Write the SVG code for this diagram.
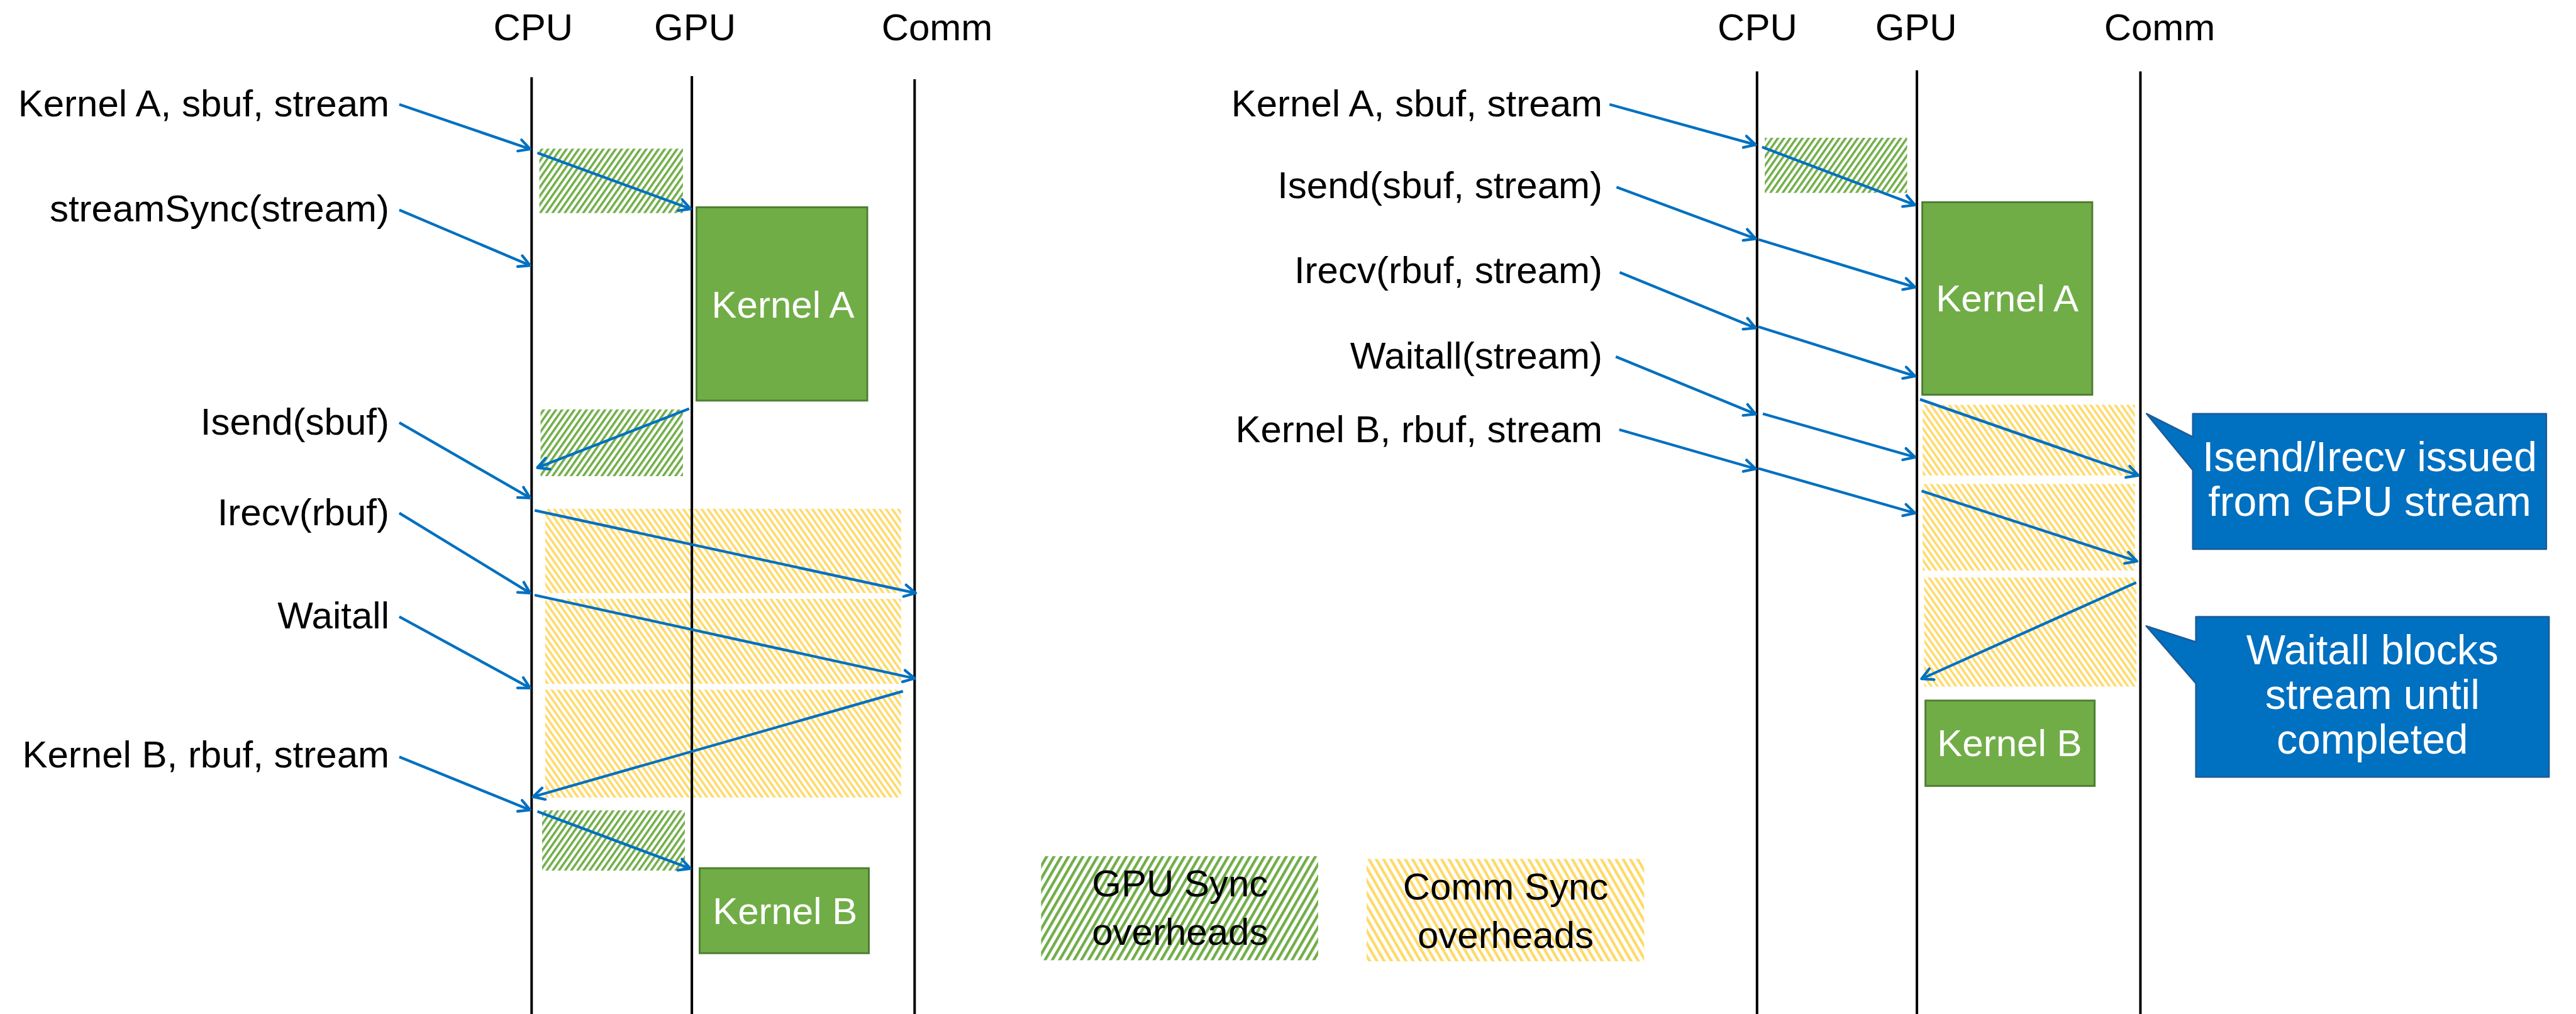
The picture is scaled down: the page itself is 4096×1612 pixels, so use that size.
<svg xmlns="http://www.w3.org/2000/svg" width="4096" height="1612" viewBox="0 0 4096 1612">
  <defs>
    <style>
      .lbl { font-family: "Liberation Sans", Arial, sans-serif; font-size: 60px; fill: #000; }
      .end { text-anchor: end; }
      .mid { text-anchor: middle; }
      .ktxt { font-family: "Liberation Sans", Arial, sans-serif; font-size: 60px; fill: #fff; text-anchor: middle; }
      .ctxt { font-family: "Liberation Sans", Arial, sans-serif; font-size: 66px; fill: #fff; text-anchor: middle; }
      .lane { stroke: #000; stroke-width: 4; }
      .kernel { fill: #70AD47; stroke: #507E32; stroke-width: 3; }
      .callout { fill: #0070C0; stroke: #1F5A96; stroke-width: 2.5; stroke-linejoin: round; }
      .gpuSync { fill: url(#hatchGreen); }
      .commSync { fill: url(#hatchGold); }
      .flow { stroke: #0070C0; stroke-width: 4.3; fill: none; marker-end: url(#arrow); }
    </style>
    <!-- diagonal hatches for the overhead spans -->
    <pattern id="hatchGreen" width="8" height="8" patternUnits="userSpaceOnUse" patternTransform="rotate(35)">
      <rect width="3.6" height="8" fill="#70AD47"/>
    </pattern>
    <pattern id="hatchGold" width="8" height="8" patternUnits="userSpaceOnUse" patternTransform="rotate(-35)">
      <rect width="3.6" height="8" fill="#FFD966"/>
    </pattern>
    <pattern id="hatchGreenWide" width="10" height="10" patternUnits="userSpaceOnUse" patternTransform="rotate(30)">
      <rect width="4.4" height="10" fill="#70AD47"/>
    </pattern>
    <pattern id="hatchGoldWide" width="10" height="10" patternUnits="userSpaceOnUse" patternTransform="rotate(-30)">
      <rect width="4.4" height="10" fill="#FFD966"/>
    </pattern>
    <marker id="arrow" markerUnits="userSpaceOnUse" markerWidth="30" markerHeight="30" viewBox="-25 -15 30 30" refX="0" refY="0" orient="auto" overflow="visible">
      <path d="M-17.7,-9.4 L0,0 L-17.7,9.4" fill="none" stroke="#0070C0" stroke-width="4.3" stroke-linecap="round" stroke-linejoin="round"/>
    </marker>
  </defs>

  <rect width="4096" height="1612" fill="#fff"/>

  <!-- ===== Left timeline: host-driven synchronisation ===== -->
  <g id="left-overheads">
    <rect id="l-gsync-1" class="gpuSync" x="857.6" y="236.3" width="228.3" height="102.4"/>
    <rect id="l-gsync-2" class="gpuSync" x="859.5" y="650.9" width="226.4" height="106.1"/>
    <rect id="l-csync-1" class="commSync" x="866.9" y="808.9" width="565.8" height="133.9"/>
    <rect id="l-csync-2" class="commSync" x="866.9" y="952" width="565.8" height="135.1"/>
    <rect id="l-csync-3" class="commSync" x="866.9" y="1096.4" width="565.8" height="171.5"/>
    <rect id="l-gsync-3" class="gpuSync" x="862" y="1288.3" width="227" height="95.6"/>
  </g>

  <g id="left-lanes">
    <line class="lane" x1="845.3" y1="122.8" x2="845.3" y2="1612"/>
    <line class="lane" x1="1100.1" y1="121" x2="1100.1" y2="1612"/>
    <line class="lane" x1="1454.3" y1="125.9" x2="1454.3" y2="1612"/>
    <text class="lbl mid" x="847.8" y="63.5">CPU</text>
    <text class="lbl mid" x="1105" y="63.5">GPU</text>
    <text class="lbl mid" x="1490" y="63.5">Comm</text>
  </g>

  <g id="l-kernelA">
    <rect class="kernel" x="1107.5" y="329.5" width="271.5" height="307.3"/>
    <text class="ktxt" x="1245" y="504.7">Kernel A</text>
  </g>
  <g id="l-kernelB">
    <rect class="kernel" x="1112.5" y="1380.2" width="269" height="135.1"/>
    <text class="ktxt" x="1248.2" y="1468.5">Kernel B</text>
  </g>

  <g id="left-calls">
    <text class="lbl end" x="619" y="185.1">Kernel A, sbuf, stream</text>
    <text class="lbl end" x="619" y="352.3">streamSync(stream)</text>
    <text class="lbl end" x="619" y="691">Isend(sbuf)</text>
    <text class="lbl end" x="619" y="834.8">Irecv(rbuf)</text>
    <text class="lbl end" x="619" y="998.9">Waitall</text>
    <text class="lbl end" x="619" y="1220.4">Kernel B, rbuf, stream</text>
  </g>

  <!-- ===== Right timeline: stream-triggered communication ===== -->
  <g id="right-overheads">
    <rect id="r-gsync-1" class="gpuSync" x="2806.1" y="219" width="226.4" height="87.6"/>
    <rect id="r-csync-1" class="commSync" x="3057.2" y="643.5" width="337.5" height="112.3"/>
    <rect id="r-csync-2" class="commSync" x="3057.2" y="769.4" width="337.5" height="137.6"/>
    <rect id="r-csync-3" class="commSync" x="3059.6" y="918.1" width="337.5" height="173.4"/>
  </g>

  <g id="right-lanes">
    <line class="lane" x1="2793.8" y1="113.5" x2="2793.8" y2="1612"/>
    <line class="lane" x1="3048" y1="111.7" x2="3048" y2="1612"/>
    <line class="lane" x1="3403.4" y1="113.5" x2="3403.4" y2="1612"/>
    <text class="lbl mid" x="2794.4" y="63.5">CPU</text>
    <text class="lbl mid" x="3046.7" y="63.5">GPU</text>
    <text class="lbl mid" x="3434" y="63.5">Comm</text>
  </g>

  <g id="r-kernelA">
    <rect class="kernel" x="3056.6" y="321.5" width="270.2" height="306"/>
    <text class="ktxt" x="3191.7" y="494.8">Kernel A</text>
  </g>
  <g id="r-kernelB">
    <rect class="kernel" x="3061.6" y="1113.7" width="269" height="135.7"/>
    <text class="ktxt" x="3195.4" y="1201.9">Kernel B</text>
  </g>

  <g id="right-calls">
    <text class="lbl end" x="2548" y="185.1">Kernel A, sbuf, stream</text>
    <text class="lbl end" x="2548" y="314.7">Isend(sbuf, stream)</text>
    <text class="lbl end" x="2548" y="450.4">Irecv(rbuf, stream)</text>
    <text class="lbl end" x="2548" y="586.2">Waitall(stream)</text>
    <text class="lbl end" x="2548" y="702.9">Kernel B, rbuf, stream</text>
  </g>

  <g id="callout-issue">
    <path class="callout" d="M3413.2,657.7 L3486.7,694.7 L3486.7,657.7 L4048.8,657.7 L4048.8,873 L3486.7,873 L3486.7,747.2 Z"/>
    <text class="ctxt" x="3768" y="749">Isend/Irecv issued</text>
    <text class="ctxt" x="3768" y="820">from GPU stream</text>
  </g>
  <g id="callout-wait">
    <path class="callout" d="M3412.6,995.2 L3491.6,1020.5 L3491.6,980.4 L4053.1,980.4 L4053.1,1235.2 L3491.6,1235.2 L3491.6,1086.5 Z"/>
    <text class="ctxt" x="3772.3" y="1055.7">Waitall blocks</text>
    <text class="ctxt" x="3772.3" y="1126.6">stream until</text>
    <text class="ctxt" x="3772.3" y="1197.6">completed</text>
  </g>

  <!-- ===== Legend ===== -->
  <g id="legend-gpu">
    <rect fill="url(#hatchGreenWide)" x="1655.4" y="1361.1" width="440.5" height="165.4"/>
    <text class="lbl mid" x="1876.3" y="1424.7">GPU Sync</text>
    <text class="lbl mid" x="1876.3" y="1502.4">overheads</text>
  </g>
  <g id="legend-comm">
    <rect fill="url(#hatchGoldWide)" x="2173.1" y="1365.4" width="441.2" height="162.9"/>
    <text class="lbl mid" x="2394" y="1429.6">Comm Sync</text>
    <text class="lbl mid" x="2394" y="1507.3">overheads</text>
  </g>

  <!-- ===== Connectors ===== -->
  <g id="connectors">
    <!-- left -->
    <line class="flow" x1="634.9" y1="166" x2="843" y2="237"/>
    <line class="flow" x1="854.5" y1="243.1" x2="1098" y2="332"/>
    <line class="flow" x1="634.9" y1="333.8" x2="843" y2="422"/>
    <line class="flow" x1="1095.8" y1="649.7" x2="854.5" y2="743.5"/>
    <line class="flow" x1="634.9" y1="671.9" x2="843" y2="791.6"/>
    <line class="flow" x1="850.2" y1="811.4" x2="1456" y2="942.8"/>
    <line class="flow" x1="634.9" y1="815.7" x2="843" y2="942.8"/>
    <line class="flow" x1="850" y1="946" x2="1454.3" y2="1078.5"/>
    <line class="flow" x1="634.9" y1="980.4" x2="843" y2="1093.9"/>
    <line class="flow" x1="1435.8" y1="1098.9" x2="847.5" y2="1266.7"/>
    <line class="flow" x1="634.9" y1="1203.2" x2="843" y2="1287.7"/>
    <line class="flow" x1="854.5" y1="1290.1" x2="1097.6" y2="1380.8"/>
    <!-- right -->
    <line class="flow" x1="2559.3" y1="166" x2="2791.5" y2="230.1"/>
    <line class="flow" x1="2801.8" y1="233.8" x2="3045" y2="325.8"/>
    <line class="flow" x1="2570.4" y1="297.4" x2="2791.5" y2="379.5"/>
    <line class="flow" x1="2796.3" y1="380.7" x2="3045" y2="456.6"/>
    <line class="flow" x1="2575.4" y1="433.1" x2="2791.5" y2="521.4"/>
    <line class="flow" x1="2796.2" y1="519.5" x2="3045" y2="597.9"/>
    <line class="flow" x1="2569.2" y1="567" x2="2791.5" y2="658.3"/>
    <line class="flow" x1="2803" y1="657.7" x2="3045" y2="726.8"/>
    <line class="flow" x1="2574.7" y1="683" x2="2791.5" y2="745.3"/>
    <line class="flow" x1="2796.2" y1="744.7" x2="3045" y2="815.7"/>
    <line class="flow" x1="3052.9" y1="634.9" x2="3400" y2="755.8"/>
    <line class="flow" x1="3055.4" y1="780.5" x2="3398" y2="892.2"/>
    <line class="flow" x1="3396.6" y1="926.1" x2="3055.4" y2="1079.1"/>
  </g>
</svg>
